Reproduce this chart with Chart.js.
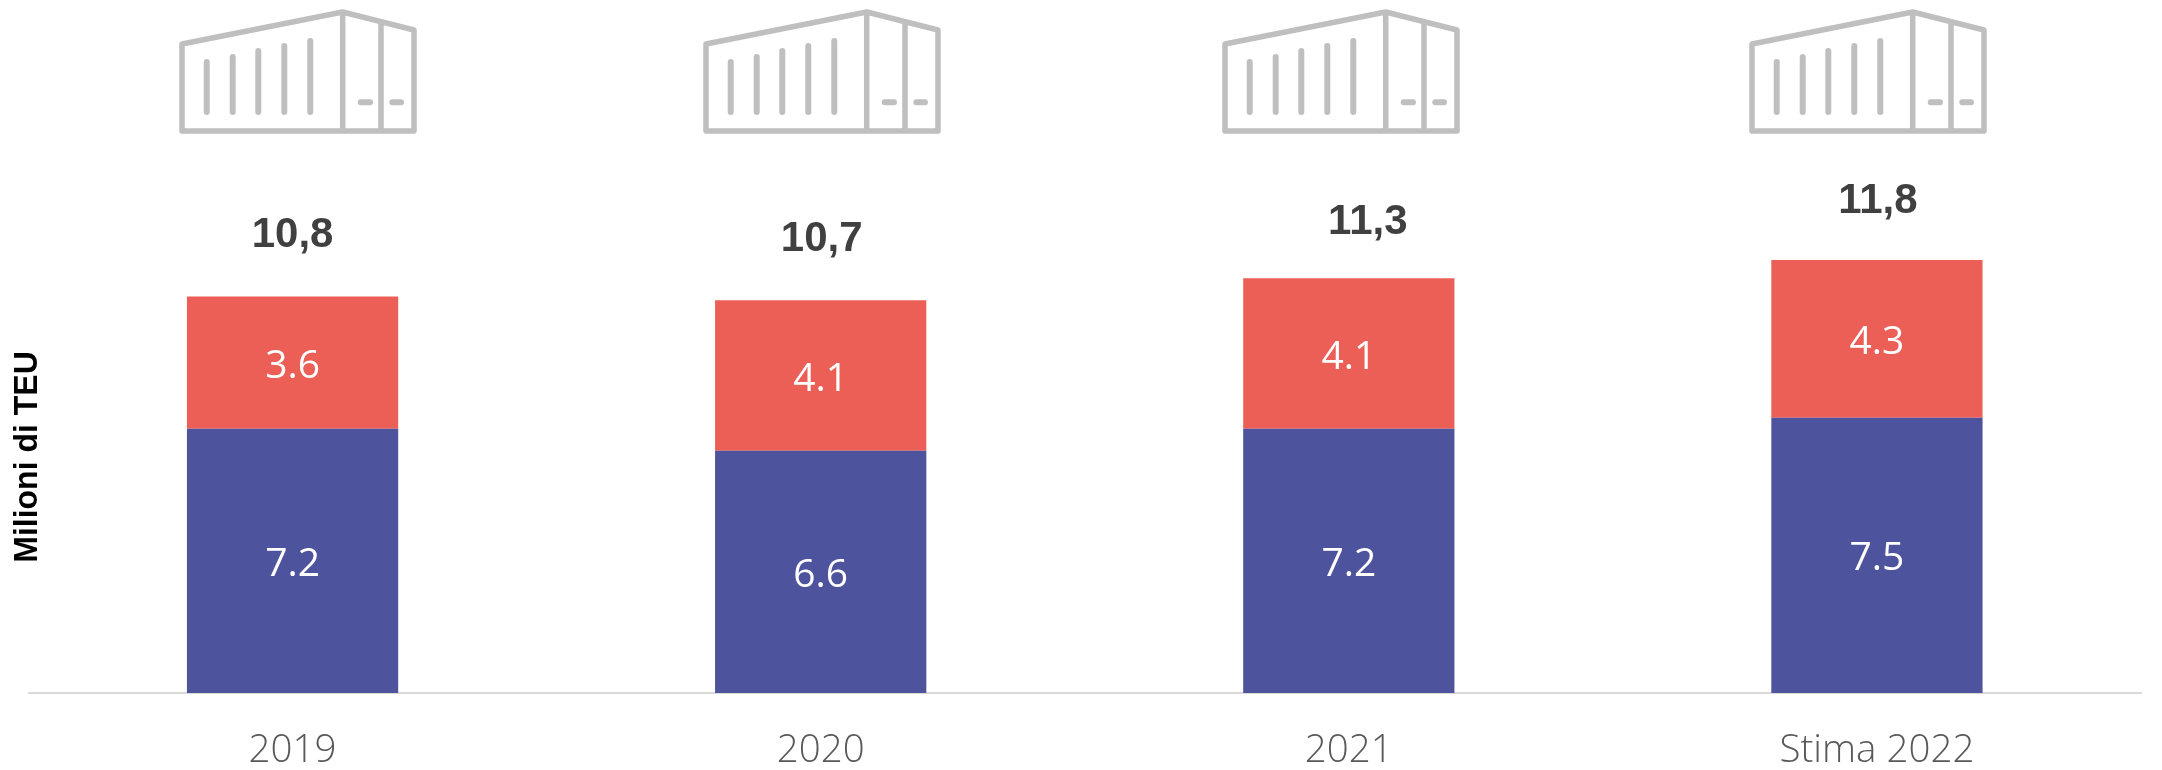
<!DOCTYPE html>
<html>
<head>
<meta charset="utf-8">
<style>
  html, body { margin: 0; padding: 0; background: #fff; }
  #wrap { position: relative; width: 2162px; height: 770px; }
</style>
<script src="https://cdn.jsdelivr.net/npm/chart.js@4"></script>
</head>
<body>
<div id="wrap"><canvas id="chart" width="2162" height="770"></canvas></div>
<script>
const categories = ['2019', '2020', '2021', 'Stima 2022'];
const blueValues = [7.2, 6.6, 7.2, 7.5];
const redValues = [3.6, 4.1, 4.1, 4.3];
const totalLabels = ['10,8', '10,7', '11,3', '11,8'];
const yTitle = 'Milioni di TEU';
const yMax = 18.88;

// left edge of each container icon, they are not quite centred on the bars
const iconLeft = [182, 706, 1225, 1752];
// the total labels were placed by hand in the original, so each has its own nudge
const totalShiftX = [0, 1, 19, 1];
const totalGap = [61, 61, 56, 58];

function drawIcon(ctx, x) {
    ctx.save();
    ctx.translate(x, 0);
    ctx.strokeStyle = '#bfbfbf';
    ctx.lineCap = 'round';
    ctx.lineJoin = 'round';
    ctx.lineWidth = 5.5;
    ctx.beginPath();
    ctx.moveTo(0, 131); ctx.lineTo(0, 44); ctx.lineTo(160.7, 12); ctx.lineTo(232, 30); ctx.lineTo(232, 131); ctx.closePath();
    ctx.moveTo(160.7, 12); ctx.lineTo(160.7, 131);
    ctx.moveTo(199, 23); ctx.lineTo(199, 131);
    ctx.stroke();
    // ribs
    ctx.lineWidth = 6;
    ctx.beginPath();
    ctx.moveTo(24.7, 62); ctx.lineTo(24.7, 112);
    ctx.moveTo(50.7, 57); ctx.lineTo(50.7, 112);
    ctx.moveTo(76.3, 51); ctx.lineTo(76.3, 112);
    ctx.moveTo(102.3, 46); ctx.lineTo(102.3, 112);
    ctx.moveTo(128.3, 41); ctx.lineTo(128.3, 112);
    ctx.stroke();
    // door handles
    ctx.beginPath();
    ctx.moveTo(178.7, 102.3); ctx.lineTo(188, 102.3);
    ctx.moveTo(210.3, 102.3); ctx.lineTo(219, 102.3);
    ctx.stroke();
    ctx.restore();
}

const extras = {
    id: 'extras',
    afterDatasetsDraw(chart) {
        const ctx = chart.ctx;
        const x = chart.scales.x;
        const y = chart.scales.y;

        iconLeft.forEach(left => drawIcon(ctx, left));

        // values inside the bars
        ctx.save();
        ctx.textAlign = 'center';
        ctx.textBaseline = 'middle';
        ctx.fillStyle = '#ffffff';
        ctx.font = '39px "Open Sans"';
        categories.forEach((c, i) => {
            ctx.fillText(blueValues[i].toFixed(1), x.getPixelForValue(i), y.getPixelForValue(blueValues[i] / 2) + 4);
            ctx.fillText(redValues[i].toFixed(1), x.getPixelForValue(i), y.getPixelForValue(blueValues[i] + redValues[i] / 2) + 4);
        });

        // totals above the stacks
        ctx.fillStyle = '#404040';
        ctx.font = 'bold 42px "Liberation Sans"';
        categories.forEach((c, i) => {
            const top = y.getPixelForValue(blueValues[i] + redValues[i]);
            ctx.fillText(totalLabels[i], x.getPixelForValue(i) + totalShiftX[i], top - totalGap[i]);
        });

        // y axis title sits over the left end of the baseline area
        ctx.translate(28, 457);
        ctx.rotate(-Math.PI / 2);
        ctx.scale(1, 1.05);
        ctx.fillStyle = '#000000';
        ctx.font = 'bold 32px "Liberation Sans"';
        ctx.fillText(yTitle, 0, 0);
        ctx.restore();
    }
};

new Chart(document.getElementById('chart').getContext('2d'), {
    type: 'bar',
    data: {
        labels: categories,
        datasets: [
            { label: 'Blue', data: blueValues, backgroundColor: '#4d539d', stack: 's', barPercentage: 1, categoryPercentage: 0.4 },
            { label: 'Red', data: redValues, backgroundColor: '#eb5f57', stack: 's', barPercentage: 1, categoryPercentage: 0.4 }
        ]
    },
    options: {
        responsive: false,
        animation: false,
        layout: { padding: { left: 28.5, right: 21, top: 0, bottom: 0 } },
        plugins: { legend: { display: false }, tooltip: { enabled: false } },
        scales: {
            x: {
                stacked: true,
                grid: { display: false },
                border: { color: '#d9d9d9', width: 2 },
                ticks: { color: '#595959', font: { family: '"Open Sans"', size: 38.5, weight: '300' }, padding: 27, maxRotation: 0 },
                afterFit(scale) { scale.height = 77; }
            },
            y: { display: false, stacked: true, min: 0, max: yMax }
        }
    },
    plugins: [extras]
});
</script>
</body>
</html>
